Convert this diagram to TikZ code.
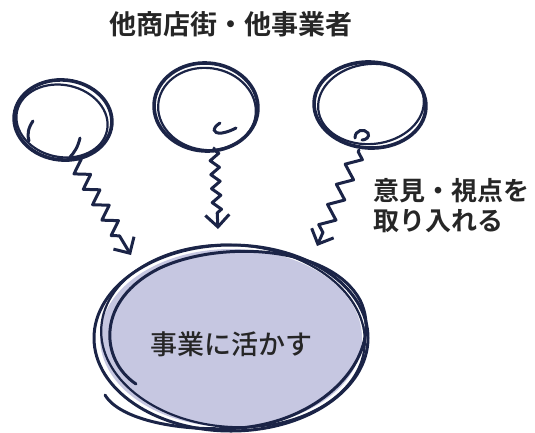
\documentclass[tikz,border=0pt]{standalone}
\usepackage{fontspec}
\setmainfont{Noto Sans CJK JP}
\newfontfamily\jpbold{Noto Sans CJK JP Bold}
\newfontfamily\jpmed{Noto Sans CJK JP Medium}
\usetikzlibrary{shapes.geometric,decorations.pathmorphing,arrows.meta}
\definecolor{ink}{HTML}{1B2447}
\definecolor{lav}{HTML}{C6C7E1}
\tikzset{
  bubble/.style={ellipse, draw=ink, line width=3.6pt, inner sep=0pt},
  stroke/.style={draw=ink, line width=3pt, line cap=round},
  thin stroke/.style={draw=ink, line width=2.2pt},
  wavy/.style={draw=ink, line width=3pt, line join=round, line cap=round,
    decorate, decoration={zigzag, segment length=#1, amplitude=6pt, pre length=2pt, post length=14pt}},
  tip/.style={-{Straight Barb[length=12pt,width=24pt,line width=3pt]}},
  label/.style={font=\jpbold\fontsize{26}{30}\selectfont, text=black!85, inner sep=0pt}
}
\begin{document}
\begin{tikzpicture}[x=1pt,y=-1pt]
\useasboundingbox (0,0) rectangle (535,432);
% title
\node[label, font=\jpbold\fontsize{27}{30}\selectfont] (title) at (231,24) {他商店街・他事業者};
% main ellipse
\node[ellipse, fill=lav, minimum width=262pt, minimum height=178pt, inner sep=0pt] (main) at (231,338) {};
\draw[stroke] (231,338) ellipse [x radius=137, y radius=93];
\draw[thin stroke, rotate around={-4:(233,336)}] (233,336) ellipse [x radius=132, y radius=91];
\draw[stroke] (136,384) .. controls (100,360) and (95,300) .. (160,268) .. controls (220,240) and (330,245) .. (360,300) .. controls (385,350) and (330,420) .. (240,428) .. controls (180,432) and (120,420) .. (105,395);
\node[font=\jpmed\fontsize{27}{30}\selectfont, text=black!85] (maintext) at (231,344) {事業に活かす};
% small bubbles
\node[bubble, minimum width=98pt, minimum height=80pt, rotate=-6] (c1) at (63,120) {};
\draw[thin stroke, rotate around={-12:(62,121)}] (62,121) ellipse [x radius=46, y radius=36];
\draw[stroke] (33,121) .. controls (28,128) and (27,135) .. (29,141);
\draw[stroke] (80,138) .. controls (78,147) and (74,153) .. (70,157);

\node[bubble, minimum width=104pt, minimum height=88pt, rotate=-4] (c2) at (206,107) {};
\draw[thin stroke, rotate around={-8:(207,109)}] (207,109) ellipse [x radius=49, y radius=41];
\draw[stroke] (220,123) .. controls (212,128) and (212,134) .. (222,133) .. controls (228,132) and (232,130) .. (236,128);

\node[bubble, minimum width=112pt, minimum height=86pt, rotate=-3] (c3) at (370,105) {};
\draw[thin stroke, rotate around={6:(371,104)}] (371,104) ellipse [x radius=53, y radius=40];
\draw[stroke] (355,138) .. controls (355,130) and (364,128) .. (368,133) .. controls (370,137) and (366,140) .. (362,140);

% wavy arrows
\coordinate (s1) at (72,157);
\coordinate (e1) at (131,255);
\coordinate (s2) at (214,148);
\coordinate (e2) at (218,229);
\coordinate (s3) at (359,150);
\coordinate (e3) at (317,246);
\draw[wavy=18pt, tip, decoration={amplitude=7pt}] (s1) -- (e1);
\draw[wavy=14pt, tip, decoration={amplitude=4.5pt}] (s2) -- (e2);
\draw[wavy=22pt, tip, decoration={amplitude=7pt}] (s3) -- (e3);
% side label
\node[label, align=left, anchor=north west] (side) at (373,178) {意見・視点を\\取り入れる};
\end{tikzpicture}
\end{document}
